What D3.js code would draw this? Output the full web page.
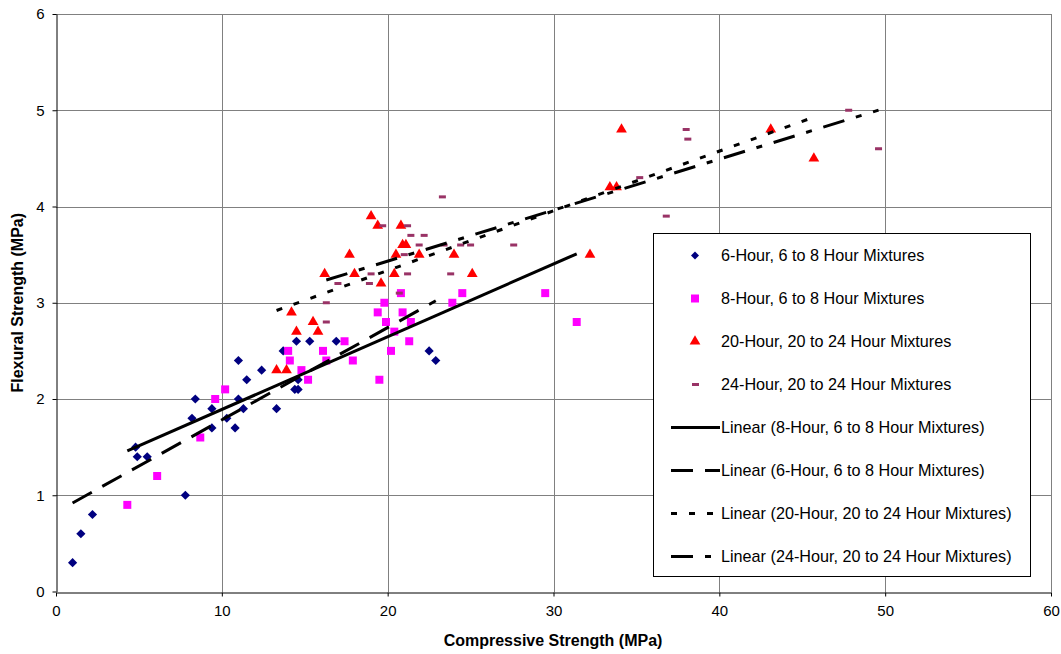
<!DOCTYPE html>
<html>
<head>
<meta charset="utf-8">
<script src="https://cdn.jsdelivr.net/npm/d3@7"></script>
<style>
  html, body { margin: 0; padding: 0; background: #fff; }
  svg { display: block; font-family: "Liberation Sans", Arial, sans-serif; }
</style>
</head>
<body>
<svg id="chart" width="1061" height="654"></svg>
<script>
// Compressive strength (MPa) vs flexural strength (MPa), per test age
const sixHour = [
  [1.0,0.3],[1.5,0.6],[2.2,0.8],[4.8,1.5],[4.9,1.4],[5.5,1.4],[7.8,1.0],[8.2,1.8],
  [8.4,2.0],[9.4,1.9],[9.4,1.7],[10.3,1.8],[10.8,1.7],[11.0,2.4],[11.5,2.2],[11.0,2.0],
  [11.3,1.9],[12.4,2.3],[13.3,1.9],[13.7,2.5],[14.5,2.6],[15.3,2.6],[16.9,2.6],[14.6,2.2],
  [14.4,2.1],[14.6,2.1],[22.5,2.5],[22.9,2.4]
];
const eightHour = [
  [4.3,0.9],[6.1,1.2],[8.7,1.6],[9.6,2.0],[10.2,2.1],[14.0,2.5],[14.1,2.4],[14.8,2.3],
  [15.2,2.2],[16.1,2.5],[16.3,2.4],[17.4,2.6],[17.9,2.4],[19.5,2.2],[20.2,2.5],[20.4,2.7],
  [21.3,2.6],[19.9,2.8],[19.4,2.9],[20.9,2.9],[21.4,2.8],[19.8,3.0],[20.8,3.1],[23.9,3.0],
  [24.5,3.1],[29.5,3.1],[31.4,2.8]
];
const twentyHour = [
  [13.3,2.3],[13.9,2.3],[14.2,2.9],[14.5,2.7],[15.5,2.8],[15.8,2.7],[16.2,3.3],[17.7,3.5],
  [18.0,3.3],[19.0,3.9],[19.4,3.8],[19.6,3.2],[20.4,3.3],[20.5,3.5],[20.8,3.8],[20.9,3.6],
  [21.1,3.6],[21.9,3.5],[24.0,3.5],[25.1,3.3],[32.2,3.5],[33.4,4.2],[33.8,4.2],[34.1,4.8],
  [43.1,4.8],[45.7,4.5]
];
const twentyFourHour = [
  [16.3,3.0],[16.3,2.8],[17.0,3.2],[18.9,3.2],[19.0,3.3],[19.7,3.8],[20.7,3.1],[21.0,3.5],
  [21.2,3.8],[21.2,3.3],[21.4,3.7],[21.9,3.6],[22.2,3.7],[23.3,4.1],[23.4,3.6],[23.8,3.3],
  [24.4,3.6],[25.0,3.6],[27.6,3.6],[35.2,4.3],[36.8,3.9],[38.0,4.8],[38.1,4.7],[47.8,5.0],
  [49.6,4.6]
];

// Linear trendline coefficients [slope, intercept]
const fitEightHour = [0.0756, 1.135];
const fitSixHour = [0.0959, 0.824];
const fitTwentyHour = [0.062, 2.095];
const fitTwentyFourHour = [0.053, 2.372];

const xTicks = [0, 10, 20, 30, 40, 50, 60];
const yTicks = [0, 1, 2, 3, 4, 5, 6];

const legendLabels = [
  "6-Hour, 6 to 8 Hour Mixtures",
  "8-Hour, 6 to 8 Hour Mixtures",
  "20-Hour, 20 to 24 Hour Mixtures",
  "24-Hour, 20 to 24 Hour Mixtures",
  "Linear (8-Hour, 6 to 8 Hour Mixtures)",
  "Linear (6-Hour, 6 to 8 Hour Mixtures)",
  "Linear (20-Hour, 20 to 24 Hour Mixtures)",
  "Linear (24-Hour, 20 to 24 Hour Mixtures)"
];

const svg = d3.select("#chart");
const plot = { left: 56, right: 1051, top: 14, bottom: 591.5 };

const x = d3.scaleLinear().domain([0, 60]).range([plot.left, plot.right]);
const y = d3.scaleLinear().domain([0, 6]).range([plot.bottom, plot.top]);

// gridlines and frame
const grid = svg.append("g").attr("stroke", "#808080").attr("stroke-width", 1).attr("shape-rendering", "crispEdges");
grid.selectAll("line.v").data(xTicks.slice(1)).join("line")
  .attr("x1", d => Math.round(x(d)) + 0.5).attr("x2", d => Math.round(x(d)) + 0.5)
  .attr("y1", plot.top).attr("y2", plot.bottom);
grid.selectAll("line.h").data(yTicks.slice(1)).join("line")
  .attr("y1", d => Math.round(y(d)) + 0.5).attr("y2", d => Math.round(y(d)) + 0.5)
  .attr("x1", plot.left).attr("x2", plot.right);

// axes
const fmt = d3.format("d");
const xAxis = d3.axisBottom(x).tickValues(xTicks).tickFormat(fmt).tickSize(4).tickSizeOuter(0).tickPadding(9);
const yAxis = d3.axisLeft(y).tickValues(yTicks).tickFormat(fmt).tickSize(4).tickSizeOuter(0).tickPadding(8);

const gx = svg.append("g").attr("transform", `translate(0,${Math.round(plot.bottom) + 0.5})`).call(xAxis);
const gy = svg.append("g").attr("transform", `translate(${plot.left + 0.5},0)`).call(yAxis);
[gx, gy].forEach(g => {
  g.select(".domain").attr("stroke", "#000");
  g.selectAll(".tick line").attr("stroke", "#000");
  g.selectAll("text").attr("font-size", 15).attr("fill", "#000")
    .attr("font-family", "'Liberation Sans', Arial, sans-serif");
});

// axis titles
svg.append("text").attr("x", 553).attr("y", 646).attr("text-anchor", "middle")
  .attr("font-size", 16).attr("font-weight", "bold").text("Compressive Strength (MPa)");
svg.append("text").attr("transform", `translate(23,${(plot.top + plot.bottom) / 2}) rotate(-90)`)
  .attr("text-anchor", "middle").attr("font-size", 16).attr("font-weight", "bold")
  .text("Flexural Strength (MPa)");

// marker shapes
const diamondPath = r => `M0,${-r}L${r},0L0,${r}L${-r},0Z`;
const square = d3.symbol().type(d3.symbolSquare).size(64);
const triangle = d3.symbol().type(d3.symbolTriangle).size(50);

function drawMarkers(g, data, kind) {
  if (kind === "dash") {
    g.selectAll("rect").data(data).join("rect")
      .attr("x", d => x(d[0]) - 3.5).attr("y", d => y(d[1]) - 1.5)
      .attr("width", 7).attr("height", 3).attr("fill", "#993366");
  } else {
    const gen = kind === "diamond" ? () => diamondPath(4.6) : kind === "square" ? square : triangle;
    const color = kind === "diamond" ? "#000080" : kind === "square" ? "#FF00FF" : "#FF0000";
    g.selectAll("path").data(data).join("path")
      .attr("transform", d => `translate(${x(d[0])},${y(d[1])})`)
      .attr("d", gen).attr("fill", color);
  }
}

drawMarkers(svg.append("g"), sixHour, "diamond");
drawMarkers(svg.append("g"), eightHour, "square");
drawMarkers(svg.append("g"), twentyHour, "triangle");
drawMarkers(svg.append("g"), twentyFourHour, "dash");

// trendlines spanning each series' x range
const line = d3.line().x(d => x(d[0])).y(d => y(d[1]));
function trend(data, fit, dash) {
  const ext = d3.extent(data, d => d[0]);
  const pts = ext.map(v => [v, fit[0] * v + fit[1]]);
  svg.append("path").datum(pts).attr("d", line)
    .attr("fill", "none").attr("stroke", "#000").attr("stroke-width", 3)
    .attr("stroke-dasharray", dash);
}
trend(eightHour, fitEightHour, null);
trend(sixHour, fitSixHour, "22,12");
trend(twentyHour, fitTwentyHour, "6,12");
trend(twentyFourHour, fitTwentyFourHour, "22,12,6,12");

// legend
const lg = svg.append("g");
lg.append("rect").attr("x", 653.5).attr("y", 233.5).attr("width", 377).attr("height", 343)
  .attr("fill", "#fff").attr("stroke", "#000").attr("stroke-width", 1);
const rowY = i => 255.5 + i * 43;
const kinds = ["diamond", "square", "triangle", "dash"];
const dashes = [null, "22,12", "6,12", "22,12,6,12"];
legendLabels.forEach((label, i) => {
  const cy = rowY(i);
  if (i < 4) {
    const k = kinds[i];
    if (k === "dash") {
      lg.append("rect").attr("x", 692).attr("y", cy - 1.5).attr("width", 7).attr("height", 3).attr("fill", "#993366");
    } else {
      const d = k === "diamond" ? diamondPath(4)
        : k === "square" ? d3.symbol().type(d3.symbolSquare).size(64)()
        : d3.symbol().type(d3.symbolTriangle).size(50)();
      const color = k === "diamond" ? "#000080" : k === "square" ? "#FF00FF" : "#FF0000";
      lg.append("path").attr("transform", `translate(695,${cy})`).attr("d", d).attr("fill", color);
    }
  } else {
    lg.append("line").attr("x1", 671).attr("x2", 720).attr("y1", cy).attr("y2", cy)
      .attr("stroke", "#000").attr("stroke-width", 3).attr("stroke-dasharray", dashes[i - 4]);
  }
  lg.append("text").attr("x", 721).attr("y", cy + 5.5).attr("font-size", 16.2).attr("fill", "#000").text(label);
});
</script>
</body>
</html>
